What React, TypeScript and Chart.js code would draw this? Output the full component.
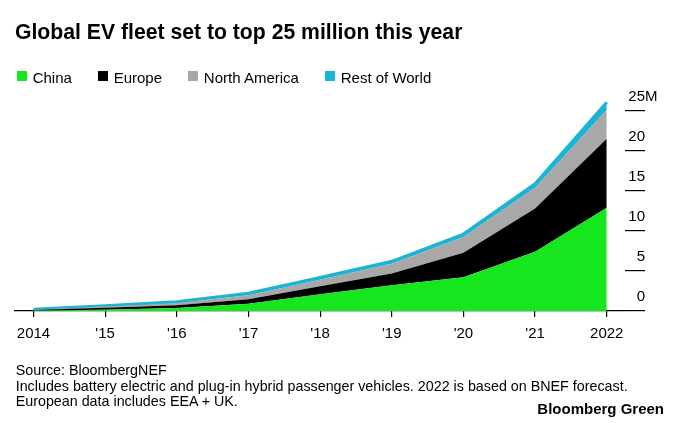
import React, { useEffect, useRef } from "react";
import { Chart, registerables } from "chart.js";

Chart.register(...registerables);

// ---- data ----
const years = [2014, 2015, 2016, 2017, 2018, 2019, 2020, 2021, 2022];
const xTickLabels = ["2014", "'15", "'16", "'17", "'18", "'19", "'20", "'21", "2022"];
const china = [0.05, 0.15, 0.37, 0.9, 2.1, 3.2, 4.2, 7.4, 12.9];
const europe = [0.07, 0.25, 0.34, 0.56, 1.0, 1.47, 3.06, 5.4, 8.6];
const northAmerica = [0.08, 0.15, 0.29, 0.52, 0.8, 1.23, 1.99, 2.6, 3.6];
const restOfWorld = [0.02, 0.1, 0.15, 0.25, 0.3, 0.3, 0.35, 0.5, 0.95];
const yTicks = [0, 5, 10, 15, 20, 25];
const yUnit = "M";
const seriesNames = ["China", "Europe", "North America", "Rest of World"];

// ---- styles ----
const seriesColors = ["#16e61e", "#000000", "#a8a8a8", "#1ab4d4"];
const FONT = '"Liberation Sans", Arial, Helvetica, sans-serif';

const title = "Global EV fleet set to top 25 million this year";
const footerLines = [
  "Source: BloombergNEF",
  "Includes battery electric and plug-in hybrid passenger vehicles. 2022 is based on BNEF forecast.",
  "European data includes EEA + UK.",
];
const brand = "Bloomberg Green";

const unitPlugin = {
  id: "unitSuffix",
  afterDraw(chart: any) {
    const s = chart.scales.y;
    const ctx = chart.ctx;
    const top = yTicks[yTicks.length - 1];
    const y = s.getPixelForValue(top) - 14;
    ctx.save();
    ctx.font = `15px ${FONT}`;
    ctx.fillStyle = "#000";
    ctx.textAlign = "left";
    ctx.textBaseline = "middle";
    ctx.fillText(yUnit, s.left + 20, y);
    ctx.restore();
  },
};

export default function App() {
  const canvasRef = useRef<HTMLCanvasElement | null>(null);

  useEffect(() => {
    if (!canvasRef.current) return;
    Chart.defaults.font.family = FONT;
    Chart.defaults.font.size = 15;
    Chart.defaults.color = "#000";
    const series = [china, europe, northAmerica, restOfWorld];
    const chart = new Chart(canvasRef.current, {
      type: "line",
      data: {
        datasets: series.map((vals, i) => ({
          label: seriesNames[i],
          data: years.map((x, j) => ({ x, y: vals[j] })),
          backgroundColor: seriesColors[i],
          borderColor: seriesColors[i],
          borderWidth: i === 3 ? 3 : 0,
          pointRadius: 0,
          tension: 0,
          fill: i === 0 ? "origin" : "-1",
        })),
      },
      options: {
        animation: false,
        responsive: false,
        events: [],
        layout: { padding: { left: 15, right: 15, top: 94.7, bottom: 72 } },
        plugins: {
          legend: { display: false },
          tooltip: { enabled: false },
          title: { display: false },
        },
        scales: {
          x: {
            type: "linear",
            min: 2013.742,
            max: 2022.255,
            afterFit: (s: any) => {
              s.height = 40;
            },
            border: { display: true, color: "#000", width: 1.3 },
            grid: {
              drawOnChartArea: false,
              drawTicks: true,
              tickLength: 6,
              color: "#000",
              lineWidth: 1.2,
            },
            ticks: {
              stepSize: 1,
              includeBounds: false,
              autoSkip: false,
              maxRotation: 0,
              padding: 8,
              color: "#000",
              font: { size: 15, family: FONT },
              callback: (v: any) => {
                const i = years.indexOf(Number(v));
                return i >= 0 ? xTickLabels[i] : "";
              },
            },
          },
          y: {
            type: "linear",
            position: "right",
            stacked: true,
            min: 0,
            max: 27,
            afterFit: (s: any) => {
              s.width = 40;
            },
            border: { display: false },
            grid: {
              drawOnChartArea: false,
              drawTicks: true,
              tickLength: 20,
              color: "#000",
              lineWidth: 1.2,
            },
            ticks: {
              stepSize: 5,
              includeBounds: false,
              mirror: true,
              crossAlign: "near",
              padding: 20,
              labelOffset: -14,
              color: "#000",
              font: { size: 15, family: FONT },
              callback: (v: any) => {
                const i = yTicks.indexOf(Number(v));
                return i >= 0 ? String(yTicks[i]) : "";
              },
            },
          },
        },
      },
      plugins: [unitPlugin],
    } as any);
    return () => chart.destroy();
  }, []);

  return (
    <div
      style={{
        position: "absolute",
        left: 0,
        top: 0,
        width: 680,
        height: 423,
        background: "#fff",
        overflow: "hidden",
        fontFamily: FONT,
        color: "#000",
      }}
    >
      <canvas
        ref={canvasRef}
        width={680}
        height={423}
        style={{ position: "absolute", left: 0, top: 0, width: 680, height: 423 }}
      />
      <div
        style={{
          position: "absolute",
          left: 15,
          top: 21.4,
          fontSize: 21.2,
          fontWeight: 700,
          lineHeight: 1,
          whiteSpace: "nowrap",
        }}
      >
        {title}
      </div>
      <div
        style={{
          position: "absolute",
          left: 16.7,
          top: 69.6,
          display: "flex",
          gap: 25.8,
          fontSize: 15,
          lineHeight: "15px",
          whiteSpace: "nowrap",
        }}
      >
        {seriesNames.map((n, i) => (
          <div key={n} style={{ display: "flex", alignItems: "flex-start" }}>
            <span
              style={{
                display: "inline-block",
                width: 10,
                height: 10,
                marginTop: 1.5,
                marginRight: 6,
                background: seriesColors[i],
              }}
            />
            <span>{n}</span>
          </div>
        ))}
      </div>
      <div
        style={{
          position: "absolute",
          left: 15.7,
          top: 363,
          fontSize: 14.3,
          lineHeight: "15.5px",
          whiteSpace: "nowrap",
        }}
      >
        {footerLines.map((l) => (
          <div key={l}>{l}</div>
        ))}
      </div>
      <div
        style={{
          position: "absolute",
          right: 16,
          top: 400.6,
          fontSize: 15,
          fontWeight: 700,
          lineHeight: 1,
          whiteSpace: "nowrap",
        }}
      >
        {brand}
      </div>
    </div>
  );
}
